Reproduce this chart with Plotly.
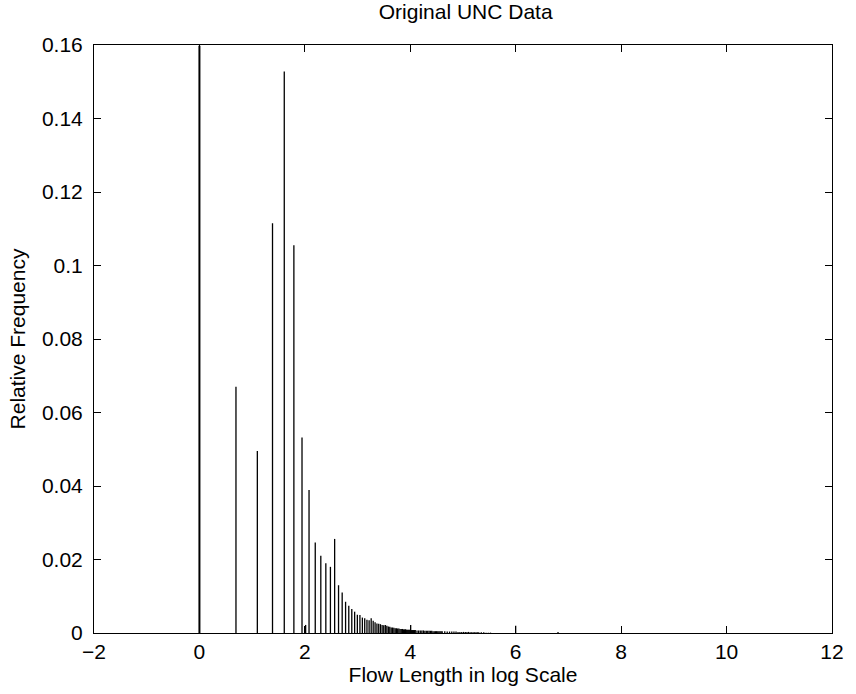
import numpy as np
import plotly.graph_objects as go

# Flow lengths (packets) and their relative frequencies
flow_len = [1, 2, 3, 4, 5, 6, 7, 7.5, 8, 9, 10, 11, 12, 13, 14, 15, 16, 17, 18, 19, 20,
            21, 22, 23, 24, 25, 26, 27, 28, 29, 30, 31, 32, 33, 34, 35, 36, 37, 38, 39, 40,
            41, 42, 43, 44, 45, 46, 47, 48, 49, 50, 51, 52, 53, 54, 55, 56, 57, 58, 59, 60,
            62, 64, 66, 68, 70, 72, 74, 76, 78, 80, 82, 84, 86, 88, 90, 92, 94, 96, 98, 100,
            105, 110, 115, 120, 125, 130, 135, 140, 145, 150, 155, 160, 165, 170, 175, 180,
            185, 190, 195, 200, 210, 220, 230, 240, 250, 403, 900]
rel_freq = [0.1598, 0.0670, 0.0495, 0.1115, 0.1528, 0.1055, 0.0532, 0.0022, 0.0389, 0.0246,
            0.0210, 0.0190, 0.0180, 0.0256, 0.0130, 0.0110, 0.0085, 0.0074, 0.0065, 0.0058,
            0.0050, 0.0049, 0.0042, 0.0040, 0.0036, 0.0035, 0.0040, 0.0033, 0.0029, 0.0026,
            0.0025, 0.0024, 0.0022, 0.0021, 0.0022, 0.0020, 0.0018, 0.0017, 0.0015, 0.0015,
            0.0014, 0.0013, 0.0013, 0.0012, 0.0012, 0.0011, 0.0011, 0.0011, 0.0010, 0.0010,
            0.0010, 0.0009, 0.0009, 0.0009, 0.0009, 0.0022, 0.0008, 0.0008, 0.0008, 0.0008,
            0.0008, 0.0007, 0.0007, 0.0007, 0.0007, 0.0007, 0.0006, 0.0006, 0.0006, 0.0006,
            0.0006, 0.0006, 0.0005, 0.0005, 0.0005, 0.0005, 0.0005, 0.0005, 0.0005, 0.0005,
            0.0005, 0.0005, 0.0004, 0.0004, 0.0004, 0.0004, 0.0004, 0.0003, 0.0003, 0.0003,
            0.0003, 0.0003, 0.0003, 0.0003, 0.0002, 0.0002, 0.0002, 0.0002, 0.0002, 0.0002,
            0.0002, 0.0002, 0.0002, 0.0001, 0.0001, 0.0001, 0.0020, 0.0003]

x_ticks = [-2, 0, 2, 4, 6, 8, 10, 12]
y_ticks = [0, 0.02, 0.04, 0.06, 0.08, 0.1, 0.12, 0.14, 0.16]
y_labels = ["0", "0.02", "0.04", "0.06", "0.08", "0.1", "0.12", "0.14", "0.16"]

log_len = np.log(np.array(flow_len, dtype=float))

xs, ys = [], []
for xv, yv in zip(log_len[1:], rel_freq[1:]):
    xs += [float(xv), float(xv), None]
    ys += [0, yv, None]

fig = go.Figure()
fig.add_trace(go.Scatter(x=xs, y=ys, mode="lines", line=dict(color="black", width=1.3),
                         hoverinfo="skip", showlegend=False))
fig.add_trace(go.Scatter(x=[float(log_len[0]), float(log_len[0])], y=[0, rel_freq[0]],
                         mode="lines", line=dict(color="black", width=2),
                         hoverinfo="skip", showlegend=False))

font = dict(family="Liberation Sans, Arial, Helvetica, sans-serif", size=21, color="black")
fig.update_layout(
    width=856, height=694,
    margin=dict(l=94, r=17, t=45, b=61),
    paper_bgcolor="white", plot_bgcolor="white",
    font=font,
    title=dict(text="Original UNC Data", x=0.544, xanchor="center",
               y=1 - 12 / 694, yref="container", yanchor="middle", font=font),
    xaxis=dict(range=[-2, 12], tickvals=x_ticks, ticks="inside", ticklen=7,
               tickcolor="black", showline=True, linecolor="black", linewidth=1,
               mirror="ticks", showgrid=False, zeroline=False,
               title=dict(text="Flow Length in log Scale", standoff=4, font=font),
               tickfont=font),
    yaxis=dict(range=[0, 0.16], tickvals=y_ticks, ticktext=y_labels, ticks="inside",
               ticklen=7, tickcolor="black", showline=True, linecolor="black",
               linewidth=1, mirror="ticks", showgrid=False, zeroline=False,
               title=dict(text="Relative Frequency", standoff=10, font=font),
               tickfont=font, ticklabelstandoff=6),
)

fig.write_html("out.html")
